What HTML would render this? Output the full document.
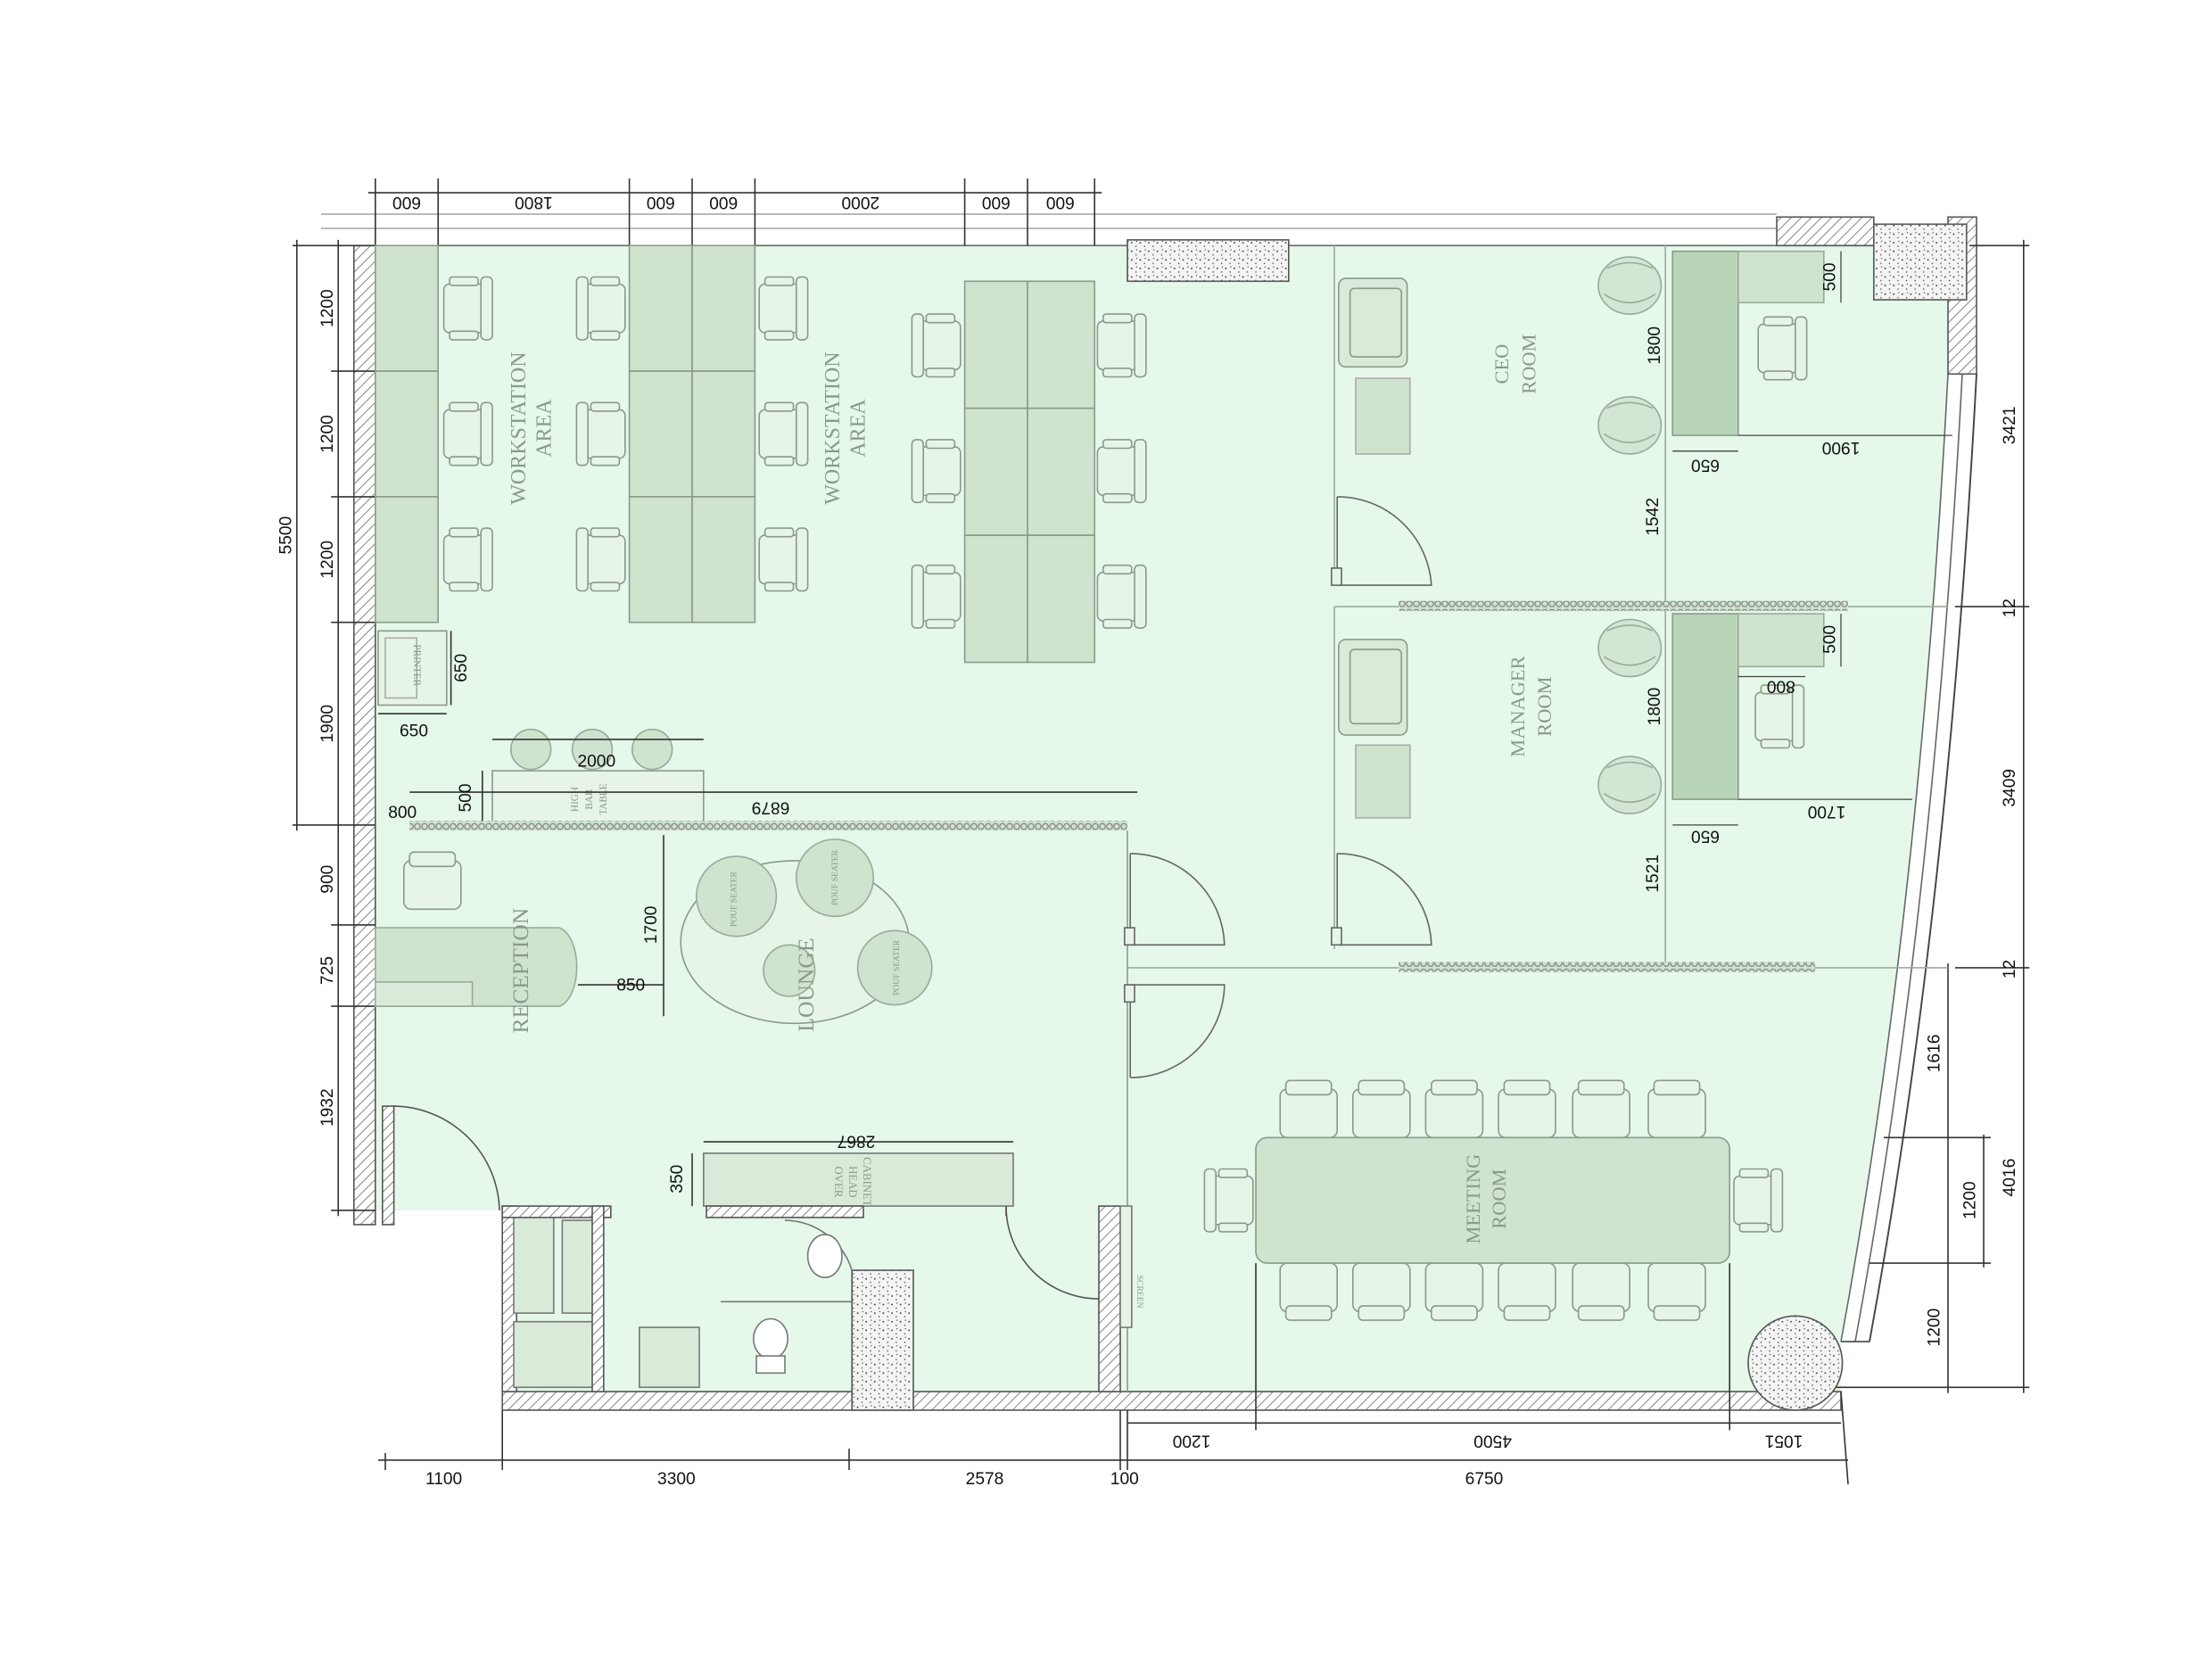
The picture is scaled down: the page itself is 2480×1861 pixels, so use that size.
<!DOCTYPE html>
<html><head><meta charset="utf-8"><style>
html,body{margin:0;padding:0;background:#fff;}
svg{display:block;}
.d{font-family:"Liberation Sans",sans-serif;font-size:12px;fill:#111;}
.s{font-family:"Liberation Serif",serif;fill:#8a9a8a;}
</style></head><body>
<svg width="2480" height="1861" viewBox="0 0 1550 1163" xmlns="http://www.w3.org/2000/svg">
<defs>
<pattern id="h" width="5" height="5" patternUnits="userSpaceOnUse" patternTransform="rotate(45)"><rect width="5" height="5" fill="#fff"/><line x1="0" y1="0" x2="0" y2="5" stroke="#666" stroke-width="1"/></pattern>
<pattern id="sp" width="6" height="6" patternUnits="userSpaceOnUse"><rect width="6" height="6" fill="#f4f4f4"/><circle cx="1" cy="2" r="0.6" fill="#444"/><circle cx="4" cy="4.5" r="0.5" fill="#555"/><circle cx="4.5" cy="1" r="0.4" fill="#333"/></pattern>
<pattern id="ch" width="5" height="6" patternUnits="userSpaceOnUse"><rect width="5" height="6" fill="#cfe3cf"/><circle cx="2.5" cy="3" r="2" fill="none" stroke="#888" stroke-width="0.8"/></pattern>
<g id="chair"><rect x="0" y="5" width="30" height="34" rx="4" fill="#e6f5e6" stroke="#8a9a8a"/><rect x="26" y="0" width="8" height="44" rx="3" fill="#e6f5e6" stroke="#8a9a8a"/><rect x="4" y="0" width="20" height="6" rx="2" fill="#e6f5e6" stroke="#8a9a8a"/><rect x="4" y="38" width="20" height="6" rx="2" fill="#e6f5e6" stroke="#8a9a8a"/></g>
<g id="mchair"><rect x="0" y="6" width="40" height="34" rx="5" fill="#e6f5e6" stroke="#8a9a8a"/><rect x="4" y="0" width="32" height="10" rx="3" fill="#e6f5e6" stroke="#8a9a8a"/></g>
<g id="arm"><ellipse cx="24" cy="22" rx="22" ry="20" fill="#d3e6d3" stroke="#9aaa9a"/><path d="M6 28 Q24 40 42 28" fill="none" stroke="#9aaa9a"/><path d="M8 10 Q24 2 40 10" fill="none" stroke="#9aaa9a"/></g>
</defs>

<path d="M263 172 L1365 172 L1365 262 Q1345 640 1290 940 L1290 975 L352 975 L352 848 L263 848 Z" fill="#e5f8e9"/>

<line x1="225" y1="150" x2="1245" y2="150" stroke="#aaa"/>
<line x1="225" y1="160" x2="1245" y2="160" stroke="#aaa"/>
<line x1="248" y1="172" x2="1313" y2="172" stroke="#666"/>
<rect x="1245" y="152" width="68" height="20" fill="url(#h)" stroke="#555"/>
<rect x="1365" y="152" width="20" height="110" fill="url(#h)" stroke="#555"/>
<rect x="1313" y="157" width="65" height="53" fill="url(#sp)" stroke="#555"/>
<rect x="790" y="168" width="113" height="29" fill="url(#sp)" stroke="#555"/>
<path d="M1365 262 Q1345 640 1290 940" fill="none" stroke="#666" stroke-width="1"/>
<path d="M1375 262 Q1355 640 1300 940" fill="none" stroke="#666" stroke-width="1"/>
<path d="M1385 262 Q1365 640 1310 940" fill="none" stroke="#444" stroke-width="1.2"/>
<line x1="1290" y1="940" x2="1310" y2="940" stroke="#444"/>
<rect x="248" y="172" width="15" height="686" fill="url(#h)" stroke="#555"/>
<rect x="352" y="975" width="938" height="13" fill="url(#h)" stroke="#555"/>
<rect x="352" y="845" width="10" height="130" fill="url(#h)" stroke="#555"/>

<g stroke="#333">
<line x1="258" y1="135" x2="772" y2="135"/>
<line x1="263" y1="125" x2="263" y2="172"/><line x1="307" y1="125" x2="307" y2="172"/><line x1="441" y1="125" x2="441" y2="172"/><line x1="485" y1="125" x2="485" y2="172"/><line x1="529" y1="125" x2="529" y2="172"/><line x1="676" y1="125" x2="676" y2="172"/><line x1="720" y1="125" x2="720" y2="172"/><line x1="767" y1="125" x2="767" y2="172"/>
</g>
<g class="d" text-anchor="middle">
<text transform="translate(285,138) rotate(180)">600</text>
<text transform="translate(374,138) rotate(180)">1800</text>
<text transform="translate(463,138) rotate(180)">600</text>
<text transform="translate(507,138) rotate(180)">600</text>
<text transform="translate(603,138) rotate(180)">2000</text>
<text transform="translate(698,138) rotate(180)">600</text>
<text transform="translate(743,138) rotate(180)">600</text>
</g>

<g stroke="#333">
<line x1="208" y1="168" x2="208" y2="582"/>
<line x1="237" y1="168" x2="237" y2="852"/>
<line x1="205" y1="172" x2="263" y2="172"/><line x1="232" y1="260" x2="263" y2="260"/><line x1="232" y1="348" x2="263" y2="348"/><line x1="232" y1="436" x2="263" y2="436"/><line x1="205" y1="578" x2="263" y2="578"/><line x1="232" y1="648" x2="263" y2="648"/><line x1="232" y1="705" x2="263" y2="705"/><line x1="232" y1="848" x2="263" y2="848"/>
</g>
<g class="d" text-anchor="middle">
<text transform="translate(233,216) rotate(-90)">1200</text>
<text transform="translate(233,304) rotate(-90)">1200</text>
<text transform="translate(233,392) rotate(-90)">1200</text>
<text transform="translate(233,507) rotate(-90)">1900</text>
<text transform="translate(204,375) rotate(-90)">5500</text>
<text transform="translate(233,616) rotate(-90)">900</text>
<text transform="translate(233,680) rotate(-90)">725</text>
<text transform="translate(233,776) rotate(-90)">1932</text>
</g>

<g stroke="#333">
<line x1="265" y1="1023" x2="1295" y2="1023"/>
<line x1="270" y1="1018" x2="270" y2="1030"/><line x1="352" y1="988" x2="352" y2="1030"/><line x1="595" y1="1015" x2="595" y2="1030"/><line x1="785" y1="988" x2="785" y2="1030"/><line x1="790" y1="988" x2="790" y2="1030"/>
<line x1="790" y1="997" x2="1290" y2="997"/>
<line x1="880" y1="885" x2="880" y2="1002"/><line x1="1212" y1="885" x2="1212" y2="1002"/>
<line x1="1290" y1="975" x2="1295" y2="1040"/>
</g>
<g class="d" text-anchor="middle">
<text x="311" y="1040">1100</text><text x="474" y="1040">3300</text><text x="690" y="1040">2578</text><text x="788" y="1040">100</text><text x="1040" y="1040">6750</text>
<text transform="translate(835,1006) rotate(180)">1200</text>
<text transform="translate(1046,1006) rotate(180)">4500</text>
<text transform="translate(1250,1006) rotate(180)">1051</text>
</g>

<g stroke="#333">
<line x1="1418" y1="168" x2="1418" y2="976"/>
<line x1="1380" y1="172" x2="1422" y2="172"/><line x1="1370" y1="425" x2="1422" y2="425"/><line x1="1370" y1="678" x2="1422" y2="678"/><line x1="1270" y1="972" x2="1422" y2="972"/>
<line x1="1365" y1="675" x2="1365" y2="976"/><line x1="1390" y1="795" x2="1390" y2="888"/>
<line x1="1320" y1="797" x2="1395" y2="797"/><line x1="1310" y1="885" x2="1395" y2="885"/>
</g>
<g class="d" text-anchor="middle">
<text transform="translate(1412,298) rotate(-90)">3421</text>
<text transform="translate(1412,426) rotate(-90)">12</text>
<text transform="translate(1412,552) rotate(-90)">3409</text>
<text transform="translate(1412,679) rotate(-90)">12</text>
<text transform="translate(1412,825) rotate(-90)">4016</text>
<text transform="translate(1359,738) rotate(-90)">1616</text>
<text transform="translate(1384,841) rotate(-90)">1200</text>
<text transform="translate(1359,930) rotate(-90)">1200</text>
</g>

<g fill="#cfe3cf" stroke="#8a9a8a">
<rect x="263" y="172" width="44" height="88"/><rect x="263" y="260" width="44" height="88"/><rect x="263" y="348" width="44" height="88"/>
<rect x="441" y="172" width="44" height="88"/><rect x="441" y="260" width="44" height="88"/><rect x="441" y="348" width="44" height="88"/>
<rect x="485" y="172" width="44" height="88"/><rect x="485" y="260" width="44" height="88"/><rect x="485" y="348" width="44" height="88"/>
<rect x="676" y="197" width="44" height="89"/><rect x="676" y="286" width="44" height="89"/><rect x="676" y="375" width="44" height="89"/>
<rect x="720" y="197" width="47" height="89"/><rect x="720" y="286" width="47" height="89"/><rect x="720" y="375" width="47" height="89"/>
</g>
<use href="#chair" x="311" y="194"/><use href="#chair" x="311" y="282"/><use href="#chair" x="311" y="370"/>
<use href="#chair" transform="translate(438,194) scale(-1,1)"/><use href="#chair" transform="translate(438,282) scale(-1,1)"/><use href="#chair" transform="translate(438,370) scale(-1,1)"/>
<use href="#chair" x="532" y="194"/><use href="#chair" x="532" y="282"/><use href="#chair" x="532" y="370"/>
<use href="#chair" transform="translate(673,220) scale(-1,1)"/><use href="#chair" transform="translate(673,308) scale(-1,1)"/><use href="#chair" transform="translate(673,396) scale(-1,1)"/>
<use href="#chair" x="769" y="220"/><use href="#chair" x="769" y="308"/><use href="#chair" x="769" y="396"/>
<text class="s" font-size="15" text-anchor="middle" transform="translate(368,300) rotate(-90)">WORKSTATION</text>
<text class="s" font-size="15" text-anchor="middle" transform="translate(386,300) rotate(-90)">AREA</text>
<text class="s" font-size="15" text-anchor="middle" transform="translate(588,300) rotate(-90)">WORKSTATION</text>
<text class="s" font-size="15" text-anchor="middle" transform="translate(606,300) rotate(-90)">AREA</text>

<rect x="265" y="442" width="48" height="52" fill="#e6f5e6" stroke="#8a9a8a"/>
<rect x="270" y="447" width="22" height="42" fill="none" stroke="#aaa"/>
<text class="s" font-size="7" text-anchor="middle" transform="translate(290,466) rotate(90)">PRINTER</text>
<g stroke="#333"><line x1="316" y1="442" x2="316" y2="494"/><line x1="265" y1="500" x2="313" y2="500"/></g>
<text class="d" text-anchor="middle" transform="translate(327,468) rotate(-90)">650</text>
<text class="d" x="290" y="516" text-anchor="middle">650</text>

<circle cx="372" cy="525" r="14" fill="#cfe3cf" stroke="#9aaa9a"/><circle cx="415" cy="525" r="14" fill="#cfe3cf" stroke="#9aaa9a"/><circle cx="457" cy="525" r="14" fill="#cfe3cf" stroke="#9aaa9a"/>
<rect x="345" y="540" width="148" height="38" fill="#e6f5e6" stroke="#8a9a8a"/>
<text class="s" font-size="7" text-anchor="middle" transform="translate(405,560) rotate(-90)">HIGH</text>
<text class="s" font-size="7" text-anchor="middle" transform="translate(415,560) rotate(-90)">BAR</text>
<text class="s" font-size="7" text-anchor="middle" transform="translate(425,560) rotate(-90)">TABLE</text>
<g stroke="#333"><line x1="345" y1="518" x2="493" y2="518"/><line x1="338" y1="540" x2="338" y2="578"/><line x1="287" y1="555" x2="797" y2="555"/></g>
<text class="d" x="418" y="537" text-anchor="middle">2000</text>
<text class="d" text-anchor="middle" transform="translate(330,559) rotate(-90)">500</text>
<text class="d" text-anchor="middle" transform="translate(540,562) rotate(180)">6879</text>
<text class="d" x="272" y="573">800</text>

<rect x="287" y="575" width="503" height="7" fill="url(#ch)"/>
<line x1="790" y1="582" x2="790" y2="975" stroke="#8a9a8a"/>
<use href="#mchair" transform="translate(283,597)" />
<path d="M263 650 L392 650 A15 28 0 0 1 392 705 L263 705 Z" fill="#cfe3cf" stroke="#9aaa9a"/>
<rect x="263" y="688" width="68" height="17" fill="#d9ead9" stroke="#9aaa9a"/>
<text class="s" font-size="16" text-anchor="middle" transform="translate(370,680) rotate(-90)">RECEPTION</text>
<g stroke="#333"><line x1="465" y1="585" x2="465" y2="712"/><line x1="405" y1="690" x2="465" y2="690"/></g>
<text class="d" text-anchor="middle" transform="translate(460,648) rotate(-90)">1700</text>
<text class="d" x="442" y="694" text-anchor="middle">850</text>
<ellipse cx="557" cy="660" rx="80" ry="57" fill="#e6f5e6" stroke="#8a9a8a"/>
<circle cx="516" cy="628" r="28" fill="#cfe3cf" stroke="#9aaa9a"/>
<circle cx="585" cy="615" r="27" fill="#cfe3cf" stroke="#9aaa9a"/>
<circle cx="553" cy="680" r="18" fill="#cfe3cf" stroke="#9aaa9a"/>
<circle cx="627" cy="678" r="26" fill="#cfe3cf" stroke="#9aaa9a"/>
<text class="s" font-size="6" text-anchor="middle" transform="translate(516,630) rotate(-90)">POUF SEATER</text>
<text class="s" font-size="6" text-anchor="middle" transform="translate(587,615) rotate(-90)">POUF SEATER</text>
<text class="s" font-size="6" text-anchor="middle" transform="translate(630,678) rotate(-90)">POUF SEATER</text>
<text class="s" font-size="16" text-anchor="middle" transform="translate(570,690) rotate(-90)">LOUNGE</text>

<g fill="none" stroke="#666">
<line x1="792" y1="598" x2="792" y2="662"/><path d="M792 598 A66 66 0 0 1 858 662 L792 662"/>
<line x1="792" y1="690" x2="792" y2="755"/><path d="M792 755 A66 66 0 0 0 858 690 L792 690"/>
<line x1="790" y1="678" x2="1365" y2="678" stroke="#9aaa9a"/>
<line x1="935" y1="172" x2="935" y2="410" stroke="#9aaa9a"/><line x1="935" y1="425" x2="935" y2="665" stroke="#9aaa9a"/>
<line x1="1167" y1="172" x2="1167" y2="678" stroke="#9aaa9a"/>
<line x1="937" y1="348" x2="937" y2="410"/><path d="M937 348 A66 66 0 0 1 1003 410 L937 410"/>
<line x1="937" y1="598" x2="937" y2="662"/><path d="M937 598 A66 66 0 0 1 1003 662 L937 662"/>
<line x1="935" y1="425" x2="1365" y2="425" stroke="#9aaa9a"/>
</g>
<rect x="788" y="650" width="7" height="12" fill="#e6f5e6" stroke="#666"/><rect x="788" y="690" width="7" height="12" fill="#e6f5e6" stroke="#666"/>
<rect x="933" y="398" width="7" height="12" fill="#e6f5e6" stroke="#666"/><rect x="933" y="650" width="7" height="12" fill="#e6f5e6" stroke="#666"/>
<rect x="980" y="421" width="315" height="7" fill="url(#ch)"/>
<rect x="980" y="674" width="292" height="7" fill="url(#ch)"/>

<rect x="938" y="195" width="48" height="62" rx="5" fill="#d9ead9" stroke="#8a9a8a"/><rect x="946" y="202" width="36" height="48" rx="3" fill="#d9ead9" stroke="#8a9a8a"/>
<rect x="950" y="265" width="38" height="53" fill="#cfe3cf" stroke="#aaa"/>
<rect x="1172" y="176" width="46" height="129" fill="#b9d5b9" stroke="#8a9a8a"/>
<rect x="1218" y="176" width="60" height="36" fill="#cfe3cf" stroke="#9aaa9a"/>
<use href="#arm" x="1118" y="178"/><use href="#arm" x="1118" y="276"/>
<use href="#chair" x="1232" y="222"/>
<text class="s" font-size="14" text-anchor="middle" transform="translate(1057,255) rotate(-90)">CEO</text>
<text class="s" font-size="14" text-anchor="middle" transform="translate(1076,255) rotate(-90)">ROOM</text>
<rect x="938" y="448" width="48" height="67" rx="5" fill="#d9ead9" stroke="#8a9a8a"/><rect x="946" y="455" width="36" height="52" rx="3" fill="#d9ead9" stroke="#8a9a8a"/>
<rect x="950" y="522" width="38" height="51" fill="#cfe3cf" stroke="#aaa"/>
<rect x="1172" y="430" width="46" height="130" fill="#b9d5b9" stroke="#8a9a8a"/>
<rect x="1218" y="430" width="60" height="37" fill="#cfe3cf" stroke="#9aaa9a"/>
<use href="#arm" x="1118" y="432"/><use href="#arm" x="1118" y="528"/>
<use href="#chair" x="1230" y="480"/>
<text class="s" font-size="14" text-anchor="middle" transform="translate(1068,495) rotate(-90)">MANAGER</text>
<text class="s" font-size="14" text-anchor="middle" transform="translate(1087,495) rotate(-90)">ROOM</text>
<g stroke="#444" stroke-width="0.8">
<line x1="1290" y1="176" x2="1290" y2="212"/><line x1="1218" y1="305" x2="1368" y2="305"/><line x1="1172" y1="316" x2="1218" y2="316"/>
<line x1="1290" y1="430" x2="1290" y2="467"/><line x1="1218" y1="560" x2="1340" y2="560"/><line x1="1172" y1="578" x2="1218" y2="578"/><line x1="1218" y1="474" x2="1265" y2="474"/>
</g>
<g class="d" font-size="9" text-anchor="middle">
<text transform="translate(1286,194) rotate(-90)">500</text><text transform="translate(1286,448) rotate(-90)">500</text>
<text transform="translate(1163,242) rotate(-90)">1800</text><text transform="translate(1163,495) rotate(-90)">1800</text>
<text transform="translate(1195,322) rotate(180)">650</text><text transform="translate(1195,582) rotate(180)">650</text>
<text transform="translate(1290,310) rotate(180)">1900</text><text transform="translate(1280,565) rotate(180)">1700</text>
<text transform="translate(1248,477) rotate(180)">800</text>
</g>
<text class="d" text-anchor="middle" transform="translate(1162,362) rotate(-90)">1542</text>
<text class="d" text-anchor="middle" transform="translate(1162,612) rotate(-90)">1521</text>

<g>
<use href="#mchair" x="897" y="757"/><use href="#mchair" x="948" y="757"/><use href="#mchair" x="999" y="757"/><use href="#mchair" x="1050" y="757"/><use href="#mchair" x="1102" y="757"/><use href="#mchair" x="1155" y="757"/>
<use href="#mchair" transform="translate(897,925) scale(1,-1)"/><use href="#mchair" transform="translate(948,925) scale(1,-1)"/><use href="#mchair" transform="translate(999,925) scale(1,-1)"/><use href="#mchair" transform="translate(1050,925) scale(1,-1)"/><use href="#mchair" transform="translate(1102,925) scale(1,-1)"/><use href="#mchair" transform="translate(1155,925) scale(1,-1)"/>
<use href="#chair" transform="translate(878,819) scale(-1,1)"/><use href="#chair" x="1215" y="819"/>
</g>
<rect x="880" y="797" width="332" height="88" rx="8" fill="#cfe3cf" stroke="#8a9a8a"/>
<text class="s" font-size="14" text-anchor="middle" transform="translate(1037,840) rotate(-90)">MEETING</text>
<text class="s" font-size="14" text-anchor="middle" transform="translate(1055,840) rotate(-90)">ROOM</text>
<circle cx="1258" cy="955" r="33" fill="url(#sp)" stroke="#555"/>

<path d="M275 775 A75 75 0 0 1 350 848" fill="none" stroke="#555"/>
<rect x="268" y="775" width="8" height="83" fill="url(#h)" stroke="#555"/>
<g fill="#d9ead9" stroke="#777">
<rect x="360" y="848" width="28" height="72"/><rect x="394" y="855" width="22" height="65"/>
<rect x="360" y="926" width="56" height="46"/>
<rect x="448" y="930" width="42" height="42"/>
<rect x="493" y="808" width="217" height="37"/>
</g>
<rect x="352" y="845" width="76" height="8" fill="url(#h)" stroke="#555"/>
<rect x="415" y="845" width="8" height="130" fill="url(#h)" stroke="#555"/>
<rect x="495" y="845" width="110" height="8" fill="url(#h)" stroke="#555"/>
<rect x="597" y="890" width="43" height="98" fill="url(#sp)" stroke="#555"/>
<rect x="770" y="845" width="15" height="130" fill="url(#h)" stroke="#555"/>
<rect x="785" y="845" width="8" height="85" fill="#e6f5e6" stroke="#777"/>
<path d="M705 845 A65 65 0 0 0 770 910" fill="none" stroke="#555"/>
<line x1="705" y1="845" x2="705" y2="852" stroke="#555"/>
<path d="M550 855 A50 50 0 0 1 597 890" fill="none" stroke="#777"/>
<ellipse cx="578" cy="880" rx="12" ry="15" fill="#fff" stroke="#777"/>
<ellipse cx="540" cy="938" rx="12" ry="14" fill="#fff" stroke="#777"/>
<rect x="530" y="950" width="20" height="12" fill="#fff" stroke="#777"/>
<line x1="505" y1="912" x2="597" y2="912" stroke="#777"/>
<g stroke="#333"><line x1="493" y1="800" x2="710" y2="800"/><line x1="485" y1="808" x2="485" y2="845"/></g>
<text class="d" font-size="9" text-anchor="middle" transform="translate(600,796) rotate(180)">2867</text>
<text class="d" font-size="9" text-anchor="middle" transform="translate(478,826) rotate(-90)">350</text>
<text class="s" font-size="8" text-anchor="middle" transform="translate(585,828) rotate(90)">OVER</text>
<text class="s" font-size="8" text-anchor="middle" transform="translate(595,828) rotate(90)">HEAD</text>
<text class="s" font-size="8" text-anchor="middle" transform="translate(605,828) rotate(90)">CABINET</text>
<text class="s" font-size="6" text-anchor="middle" transform="translate(797,905) rotate(90)">SCREEN</text>
</svg>
</body></html>
